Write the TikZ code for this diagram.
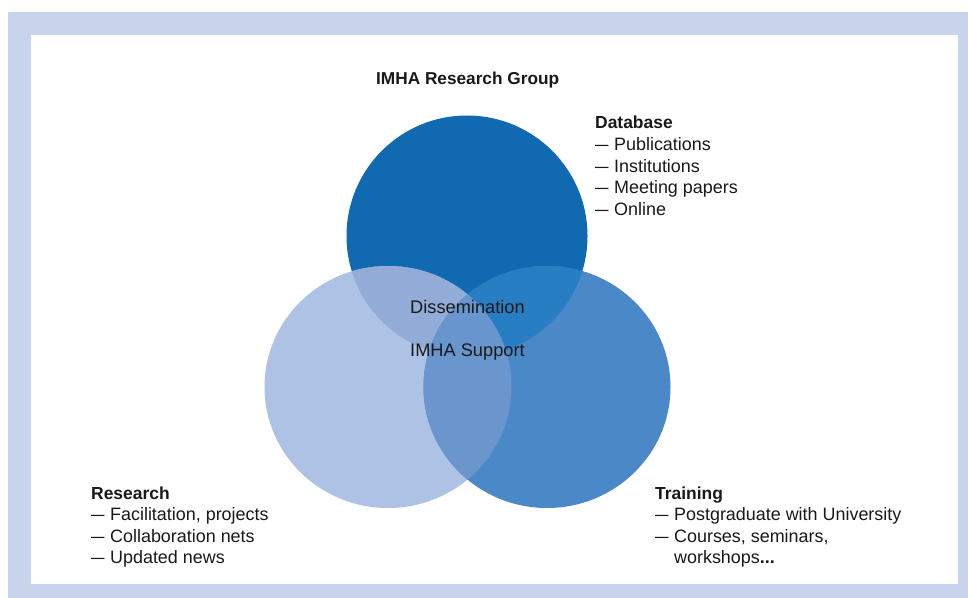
\documentclass[tikz,border=0pt]{standalone}
\usepackage{graphicx}
\usepackage{fontspec}
\setmainfont{Liberation Sans}
\definecolor{framecol}{RGB}{200,212,235}
\definecolor{ctop}{RGB}{17,105,177}
\definecolor{cleft}{RGB}{173,194,228}
\definecolor{cright}{RGB}{74,136,200}
\definecolor{ctl}{RGB}{146,171,215}
\definecolor{ctr}{RGB}{40,126,194}
\definecolor{clr}{RGB}{106,150,205}
\definecolor{call}{RGB}{104,149,205}
\definecolor{txt}{RGB}{25,25,25}
\newcommand\dsh{\scalebox{0.75}[1]{—}\hspace{5.5bp}}
\begin{document}
\begin{tikzpicture}[x=1bp,y=-1bp,
  lbl/.style={anchor=base west,inner sep=0pt,text=txt,font=\fontsize{18}{21}\selectfont},
  hdr/.style={lbl,font=\fontsize{17.5}{21}\selectfont\bfseries},
  mid/.style={lbl,font=\fontsize{18.3}{21}\selectfont}]
\useasboundingbox (0,0) rectangle (968,598);
\fill[framecol] (8,12) rectangle (968,598);
\fill[white] (31,35) rectangle (958,584);
\coordinate (cT) at (467,236);
\coordinate (cL) at (388,387);
\coordinate (cR) at (547,387);
\def\topc{(cT) ellipse[x radius=120.5bp,y radius=120.5bp]}
\def\leftc{(cL) ellipse[x radius=123.5bp,y radius=121bp]}
\def\rightc{(cR) ellipse[x radius=123.5bp,y radius=121bp]}
\fill[ctop] \topc;
\fill[cleft] \leftc;
\fill[cright] \rightc;
\begin{scope}
  \clip \topc;
  \fill[ctl] \leftc;
  \fill[ctr] \rightc;
\end{scope}
\begin{scope}
  \clip \leftc;
  \fill[clr] \rightc;
  \clip \rightc;
  \fill[call] \topc;
\end{scope}
% title
\node[hdr,font=\fontsize{17.3}{21}\selectfont\bfseries] (title) at (376,85) {IMHA Research Group};
% database
\node[hdr] (db) at (595,129) {Database};
\node[lbl] (db1) at (595,151) {\dsh Publications};
\node[lbl] (db2) at (595,172.5) {\dsh Institutions};
\node[lbl] (db3) at (595,194) {\dsh Meeting papers};
\node[lbl] (db4) at (595,215.5) {\dsh Online};
% centre
\node[mid] (diss) at (410,313) {Dissemination};
\node[mid] (supp) at (410,356) {IMHA Support};
% research
\node[hdr] (res) at (91,499) {Research};
\node[lbl] (res1) at (91,520.5) {\dsh Facilitation, projects};
\node[lbl] (res2) at (91,542) {\dsh Collaboration nets};
\node[lbl] (res3) at (91,563.5) {\dsh Updated news};
% training
\node[hdr] (tr) at (655,499) {Training};
\node[lbl] (tr1) at (655,520.5) {\dsh Postgraduate with University};
\node[lbl] (tr2) at (655,542) {\dsh Courses, seminars,};
\node[lbl] (tr3) at (655,563.5) {\phantom{\dsh}workshops\textbf{...}};
\end{tikzpicture}
\end{document}
